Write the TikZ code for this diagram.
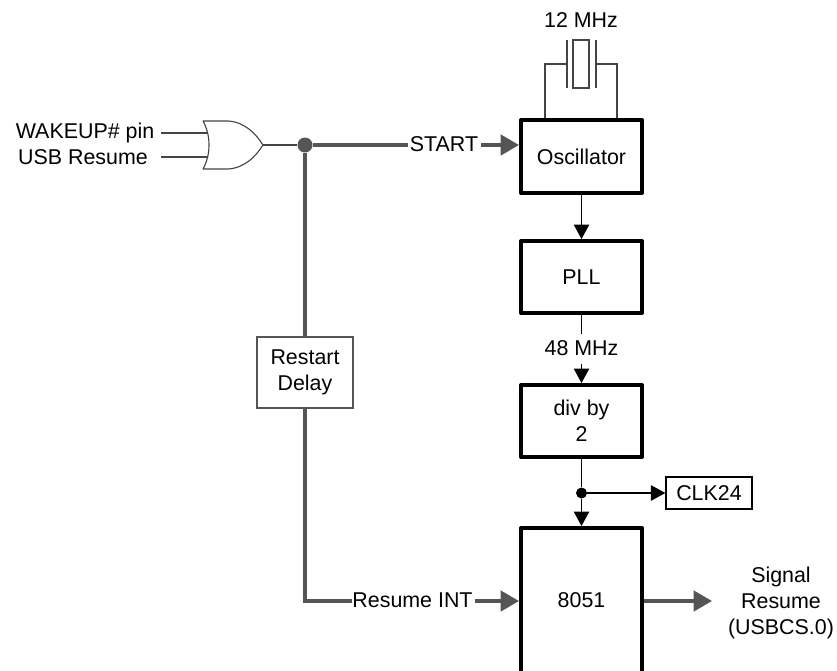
\documentclass[tikz,border=0pt]{standalone}
\usepackage{fontspec}
\setmainfont{Liberation Sans}
\usetikzlibrary{arrows.meta}
\definecolor{heavy}{HTML}{555555}
\definecolor{thin}{HTML}{444444}
\tikzset{
  txt/.style={inner sep=0pt,font=\fontsize{21.4}{26}\selectfont,align=center},
  block/.style={draw=black,line width=4pt,fill=white,minimum width=121pt,inner sep=0pt,line join=round,font=\fontsize{21.4}{26}\selectfont,align=center},
  lightbox/.style={line width=1.2pt,fill=white,inner sep=0pt,font=\fontsize{21.4}{26}\selectfont,align=center},
  wire/.style={draw=thin,line width=1.05pt},
  blackwire/.style={draw=black,line width=1.05pt},
  blackarrow/.style={blackwire,-{Triangle[length=14.5pt,width=15.5pt]}},
  bus/.style={draw=heavy,line width=3.6pt},
  busarrow/.style={bus,-{Triangle[length=18.5pt,width=20.5pt]}},
  dotnode/.style={circle,inner sep=0pt,minimum size=#1,fill=heavy},
}
\begin{document}
\begin{tikzpicture}[x=1pt,y=-1pt]
\useasboundingbox (0,0) rectangle (837,671);
% blocks
\node[block,minimum height=73pt] (osc) at (581.5,156.5) {Oscillator};
\node[block,minimum height=72pt] (pll) at (581.5,277) {PLL};
\node[block,minimum height=72pt] (div) at (581.5,421) {div by\\2};
% 8051 block has no bottom edge inside the picture
\coordinate (cpuNW) at (521,528);
\coordinate (cpuNE) at (642,528);
\coordinate (cpuSW) at (521,680);
\coordinate (cpuSE) at (642,680);
\begin{scope}
\clip (0,0) rectangle (837,671);
\draw[line width=4pt,line join=round,fill=white] (cpuSW) -- (cpuNW) -- (cpuNE) -- (cpuSE);
\end{scope}
\node[txt] (cpu) at (581.5,600) {8051};
\coordinate (cpuW) at (519,601);
\coordinate (cpuE) at (644,601);
\coordinate (cpuN) at (581.5,526);
\node[lightbox,draw=heavy,minimum width=96pt,minimum height=71pt] (delay) at (305,372.5) {Restart\\Delay};
\node[lightbox,draw=black,minimum width=86pt,minimum height=32pt] (clk) at (709,493) {CLK24};
% labels
\node[txt] (wake) at (85,132.5) {WAKEUP\# pin};
\node[txt] (usb) at (83,157) {USB Resume};
\node[txt] (start) at (444,144) {START};
\node[txt] (rint) at (412.5,600) {Resume INT};
\node[txt] (f12) at (581,20) {12 MHz};
\node[txt] (f48) at (581.5,348.5) {48 MHz};
\node[txt] (sig) at (781,603) {Signal\\Resume\\(USBCS.0)};
% OR gate
\coordinate (in1) at (207,133);
\coordinate (in2) at (207,157);
\coordinate (gout) at (263,145);
\coordinate (out1) at (161,133);
\coordinate (out2) at (161,157);
\draw[draw=thin,line width=1.1pt,fill=white,line join=round]
  (203,121) -- (228,121) .. controls (245,122) and (256,134) .. (gout)
  .. controls (256,156) and (245,168) .. (228,169) -- (203,169)
  .. controls (211,155) and (211,135) .. (203,121) -- cycle;
\draw[wire] (out1) -- (in1);
\draw[wire] (out2) -- (in2);
% junction and buses
\node[dotnode=15pt] (j1) at (305,145) {};
\coordinate (corner) at (305,601);
\coordinate (startIn) at (408,145);
\coordinate (startOut) at (481,145);
\coordinate (oscIn) at (519,145);
\coordinate (rintIn) at (352,601);
\coordinate (rintOut) at (475,601);
\coordinate (sigTip) at (712,601);
\draw[wire] (gout) -- (j1);
\draw[bus] (j1) -- (startIn);
\draw[busarrow] (startOut) -- (oscIn);
\draw[bus] (j1) -- (delay.north);
\draw[bus] (delay.south) -- (corner) -- (rintIn);
\draw[busarrow] (rintOut) -- (cpuW);
\draw[busarrow] (cpuE) -- (sigTip);
% crystal
\coordinate (plateL) at (567,64);
\coordinate (plateR) at (596,64);
\node[draw=thin,line width=1.1pt,fill=white,minimum width=16pt,minimum height=48pt,inner sep=0pt] (xtal) at (581,64) {};
\draw[wire] (567,40) -- (567,88);
\draw[wire] (596,40) -- (596,88);
\draw[wire] (plateL) -- (545,64) -- (545,118);
\draw[wire] (plateR) -- (617,64) -- (617,118);
% clock path
\coordinate (f48top) at (581.5,334);
\coordinate (f48bot) at (581.5,364);
\node[circle,inner sep=0pt,minimum size=11pt,fill=black] (j2) at (581.5,493) {};
\draw[blackarrow] (osc.south) -- (pll.north);
\draw[blackwire] (pll.south) -- (f48top);
\draw[blackarrow] (f48bot) -- (div.north);
\draw[blackwire] (div.south) -- (j2);
\draw[blackarrow] (j2) -- (cpuN);
\draw[blackarrow] (j2) -- (clk.west);
\end{tikzpicture}
\end{document}
